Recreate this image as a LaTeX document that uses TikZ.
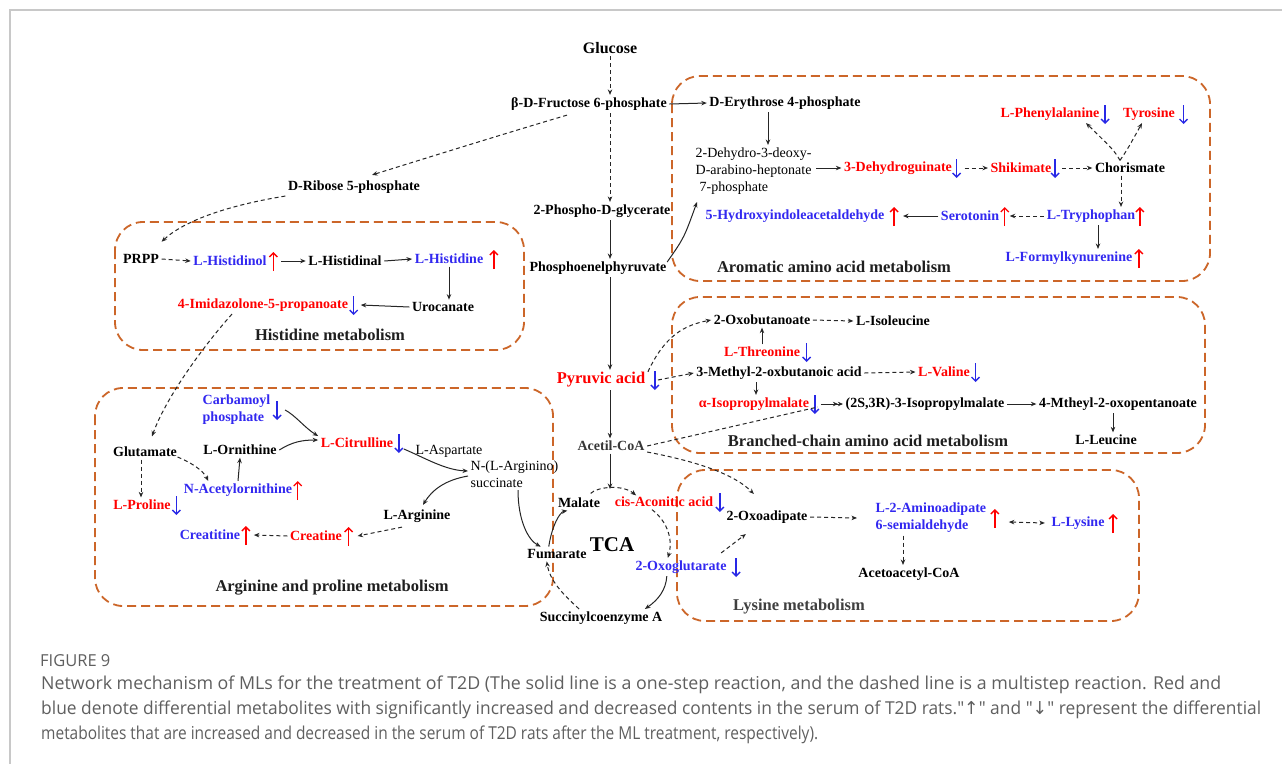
\documentclass[tikz,border=0pt]{standalone}
\usepackage{fontspec}
\usepackage{graphicx}
\setmainfont{Liberation Serif}
\newfontfamily\capfont{Open Sans}
\newfontfamily\symf{DejaVu Sans}
\usetikzlibrary{arrows.meta,calc}
\definecolor{mred}{RGB}{255,0,0}
\definecolor{mblue}{RGB}{50,40,240}
\definecolor{ablue}{RGB}{40,40,230}
\definecolor{boxc}{RGB}{204,102,41}
\definecolor{capc}{RGB}{95,95,95}
\definecolor{framec}{RGB}{200,200,200}
\definecolor{dgray}{RGB}{55,55,55}
\tikzset{
 lbl/.style={font=\fontsize{14}{17}\selectfont\bfseries, inner sep=2.5pt, text=black},
 reg/.style={font=\fontsize{14}{17}\selectfont, inner sep=2.5pt, text=black},
 rl/.style={lbl, text=mred},
 bl/.style={lbl, text=mblue},
 ttl/.style={font=\fontsize{16.5}{19}\selectfont\bfseries, inner sep=2pt, text=black!88},
 pbox/.style={draw=boxc, line width=1.8pt, dash pattern=on 9pt off 5pt, rounded corners=28pt},
 con/.style={draw=black!85, line width=1pt, -{Stealth[length=5.5pt,width=4.5pt]}},
 dcon/.style={con, dash pattern=on 4pt off 3pt},
 upa/.style={draw=mred, line width=1.4pt, -{Straight Barb[length=4pt,width=8pt]}},
 dna/.style={draw=ablue, line width=1.4pt, -{Straight Barb[length=4pt,width=8pt]}},
 capt/.style={font=\capfont\fontsize{17.8}{20}\selectfont, text=capc, anchor=west, inner sep=0pt},
}
\newcommand\UPR[2]{\draw[upa] ($(#1.east)+(#2,10)$) -- ($(#1.east)+(#2,-9)$);}
\newcommand\DNB[2]{\draw[dna] ($(#1.east)+(#2,-9)$) -- ($(#1.east)+(#2,10)$);}
\begin{document}
\begin{tikzpicture}[x=1pt,y=-1pt]
\fill[white] (0,0) rectangle (1282,764);
\useasboundingbox (0,0) rectangle (1282,764);
\draw[framec, line width=2pt] (1282,10) -- (10,10) -- (10,764);

% pathway boxes
\draw[pbox] (672,76) rectangle (1210,281);
\draw[pbox] (115,222) rectangle (524,350);
\draw[pbox] (672,297) rectangle (1205,453);
\draw[pbox] (95,388) rectangle (553,606);
\draw[pbox] (677,470) rectangle (1139,621);

% central column
\node[lbl, font=\fontsize{16}{19}\selectfont\bfseries] (glu) at (610,48) {Glucose};
\node[lbl] (fru) at (589,104) {β-D-Fructose 6-phosphate};
\node[lbl] (pgly) at (602,211) {2-Phospho-D-glycerate};
\node[lbl] (pep) at (598,268) {Phosphoenelphyruvate};
\node[rl, font=\fontsize{16.5}{19}\selectfont\bfseries] (pyr) at (601,380) {Pyruvic acid};
\node[lbl, text=dgray] (acc) at (611,446) {Acetil-CoA};
\node[lbl] (rib) at (354,187) {D-Ribose 5-phosphate};
\node[lbl] (ery) at (785,103) {D-Erythrose 4-phosphate};

% histidine
\node[lbl] (prpp) at (141,259) {PRPP};
\node[bl] (hisol) at (230,261) {L-Histidinol};
\node[lbl] (hisal) at (345,261) {L-Histidinal};
\node[bl] (his) at (449,259) {L-Histidine};
\node[lbl] (uro) at (443,307) {Urocanate};
\node[rl] (imid) at (263,305) {4-Imidazolone-5-propanoate};
\node[ttl] (histitle) at (330,335) {Histidine metabolism};

% aromatic
\node[reg, align=left, anchor=west] (dhd) at (693,171) {2-Dehydro-3-deoxy-\\D-arabino-heptonate\\\hspace{4pt}7-phosphate};
\node[rl] (dhq) at (898,168) {3-Dehydroguinate};
\node[rl] (shk) at (1021,168) {Shikimate};
\node[lbl] (cho) at (1130,168) {Chorismate};
\node[rl] (phe) at (1050,114) {L-Phenylalanine};
\node[rl] (tyr) at (1149,114) {Tyrosine};
\node[bl] (trp) at (1091,216) {L-Tryphophan};
\node[bl] (ser) at (970,216) {Serotonin};
\node[bl] (hia) at (795,216) {5-Hydroxyindoleacetaldehyde};
\node[bl] (fkyn) at (1069,258) {L-Formylkynurenine};
\node[ttl] (arotitle) at (834,267) {Aromatic amino acid metabolism};

% branched chain
\node[lbl] (obu) at (762,320) {2-Oxobutanoate};
\node[lbl] (ile) at (893,321) {L-Isoleucine};
\node[rl] (thr) at (762,352) {L-Threonine};
\node[lbl] (mob) at (779,373) {3-Methyl-2-oxbutanoic acid};
\node[rl] (val) at (944,372) {L-Valine};
\node[rl] (ipm) at (754,404) {α-Isopropylmalate};
\node[lbl] (ipm2) at (925,404) {(2S,3R)-3-Isopropylmalate};
\node[lbl] (mop) at (1118,404) {4-Mtheyl-2-oxopentanoate};
\node[lbl] (leu) at (1106,440) {L-Leucine};
\node[ttl] (bctitle) at (868,441) {Branched-chain amino acid metabolism};

% lysine
\node[lbl] (oad) at (767,517) {2-Oxoadipate};
\node[bl, align=left, anchor=west] (aas) at (873,518) {L-2-Aminoadipate\\6-semialdehyde};
\node[bl] (lys) at (1078,523) {L-Lysine};
\node[lbl] (aca) at (909,574) {Acetoacetyl-CoA};
\node[ttl, text=black!75] (lystitle) at (799,607) {Lysine metabolism};

% TCA
\coordinate (tcatop) at (610,489);
\node[lbl] (mal) at (579,503) {Malate};
\node[rl] (cis) at (664,502) {cis-Aconitic acid};
\node[lbl, font=\fontsize{21}{24}\selectfont\bfseries] (tca) at (612,545) {TCA};
\node[lbl] (fum) at (557,554) {Fumarate};
\node[bl] (ogl) at (681,567) {2-Oxoglutarate};
\node[lbl] (suc) at (601,618) {Succinylcoenzyme A};

% arginine and proline
\node[bl, align=left, anchor=west] (carb) at (200,410) {Carbamoyl\\phosphate};
\node[lbl] (glut) at (145,452) {Glutamate};
\node[lbl] (orn) at (240,450) {L-Ornithine};
\node[rl] (cit) at (357,443) {L-Citrulline};
\node[reg] (asp) at (449,451) {L-Aspartate};
\node[reg, align=left, anchor=west] (nas) at (468,474) {N-(L-Arginino)\\succinate};
\node[bl] (nao) at (238,490) {N-Acetylornithine};
\node[rl] (pro) at (142,505) {L-Proline};
\node[lbl] (arg) at (417,516) {L-Arginine};
\node[rl] (cre) at (316,536) {Creatine};
\node[bl] (crn) at (210,535) {Creatitine};
\node[ttl] (argtitle) at (332,588) {Arginine and proline metabolism};

% up / down markers
\UPR{hisol}{4} \UPR{his}{8} \DNB{imid}{3}
\DNB{dhq}{2} \DNB{shk}{1} \DNB{phe}{3} \DNB{tyr}{6}
\UPR{trp}{2} \UPR{ser}{3} \UPR{hia}{7} \UPR{fkyn}{4}
\DNB{thr}{4} \DNB{val}{3} \DNB{ipm}{3}
\DNB{pyr}{7} \DNB{cis}{4} \DNB{ogl}{7}
\UPR{aas}{6} \UPR{lys}{6}
\DNB{carb}{4} \DNB{cit}{3} \UPR{nao}{3} \DNB{pro}{3} \UPR{cre}{4} \UPR{crn}{3}

% central connectors
\draw[dcon] (glu.south) -- (glu.south |- fru.north);
\draw[dcon] (fru.south -| glu.south) -- (pgly.north -| glu.south);
\draw[con] (pgly.south -| glu.south) -- (pep.north -| glu.south);
\draw[con] (pep.south -| glu.south) -- (pyr.north -| glu.south);
\draw[con] (pyr.south -| glu.south) -- (acc.north -| glu.south);
\draw[con] (acc.south -| glu.south) -- (tcatop);
\draw[con] (fru.east) -- (ery.west);
\draw[dcon] ($(fru.south)+(-22,2)$) .. controls (500,135) and (420,160) .. ($(rib.north)+(18,-3)$);
\draw[dcon] (rib.south west) .. controls (230,205) and (185,220) .. ($(prpp.north east)+(0,-10)$);

% histidine connectors
\draw[dcon] (prpp.east) -- (hisol.west);
\draw[con] ($(hisol.east)+(12,0)$) -- (hisal.west);
\draw[con] (hisal.east) -- (his.west);
\draw[con] (his.south) -- (his.south |- uro.north);
\draw[con] (uro.west) -- ($(imid.east)+(10,0)$);

% aromatic connectors
\coordinate (e1) at ($(ery.south)+(-17,0)$);
\draw[con] (e1) -- (e1 |- dhd.north);
\draw[con] ($(dhd.east)+(2,-3)$) -- (dhq.west);
\draw[dcon] ($(dhq.east)+(10,0)$) -- (shk.west);
\draw[dcon] ($(shk.east)+(8,0)$) -- (cho.west);
\coordinate (c1) at ($(cho.north)+(-10,0)$);
\draw[dcon] (c1) .. controls ($(c1)+(-6,-10)$) .. ($(phe.south)+(36,0)$);
\draw[dcon] (c1) .. controls ($(c1)+(8,-12)$) .. ($(tyr.south)+(-7,0)$);
\coordinate (c2) at ($(cho.south)+(-9,0)$);
\draw[dcon] (c2) -- (c2 |- trp.north);
\draw[dcon] (trp.west) -- ($(ser.east)+(8,0)$);
\draw[con] (ser.west) -- ($(hia.east)+(16,0)$);
\coordinate (c3) at ($(trp.south)+(7,0)$);
\draw[con] (c3) -- (c3 |- fkyn.north);
\draw[con] ($(pep.east)+(-2,-6)$) .. controls (684,238) .. ($(dhd.south west)+(4,5)$);

% branched-chain connectors
\draw[dcon] ($(pyr.north east)+(0,2)$) .. controls (665,335) and (685,325) .. (obu.west);
\draw[dcon] ($(pyr.east)+(10,0)$) -- (mob.west);
\draw[con] (thr.north) -- (obu.south);
\draw[dcon] (obu.east) -- (ile.west);
\draw[dcon] (mob.east) -- (val.west);
\coordinate (b1) at ($(mob.south)+(-23,0)$);
\draw[con] (b1) -- (b1 |- ipm.north);
\draw[con, -{Stealth[length=5pt,width=4.5pt]Stealth[length=5pt,width=4.5pt]}] ($(ipm.east)+(9,0)$) -- (ipm2.west);
\draw[con] (ipm2.east) -- (mop.west);
\coordinate (b2) at ($(mop.south)+(-5,0)$);
\draw[con] (b2) -- (b2 |- leu.north);
\draw[dcon, -] (acc.east) -- ($(ipm.east)+(6,3)$);
\draw[dcon] ($(acc.east)+(0,6)$) .. controls (700,462) and (735,475) .. ($(oad.north west)+(30,-14)$);

% lysine connectors
\draw[dcon] (oad.east) -- ($(aas.west)+(-16,0)$);
\draw[dcon, {Stealth[length=5.5pt,width=4.5pt]}-{Stealth[length=5.5pt,width=4.5pt]}] ($(aas.east)+(20,4)$) -- ($(lys.west)+(-4,0)$);
\coordinate (l1) at ($(aas.south west)+(30,0)$);
\draw[dcon] (l1) -- (l1 |- aca.north);
\draw[dcon] ($(ogl.north east)+(-8,-5)$) -- ($(oad.south west)+(22,8)$);

% TCA connectors
\draw[dcon] ($(mal.north east)+(-12,-2)$) .. controls (597,487) and (622,484) .. ($(cis.north west)+(24,1)$);
\draw[dcon] ($(cis.south)+(-12,0)$) .. controls (668,522) and (673,540) .. ($(ogl.north west)+(35,0)$);
\draw[con] ($(ogl.south west)+(34,0)$) .. controls (666,590) and (658,600) .. ($(suc.north east)+(-20,0)$);
\draw[dcon] ($(suc.north west)+(42,0)$) .. controls (565,596) and (550,582) .. ($(fum.south west)+(22,0)$);
\draw[con] ($(fum.north west)+(24,0)$) .. controls (552,525) and (560,512) .. ($(mal.south west)+(12,0)$);

% arginine connectors
\draw[con] ($(carb.east)+(12,0)$) .. controls (295,415) and (305,428) .. ($(cit.west)+(0,-7)$);
\draw[con] (orn.east) .. controls (292,442) and (302,440) .. ($(cit.west)+(0,-3)$);
\draw[con] ($(cit.east)+(8,6)$) .. controls (425,458) and (445,470) .. ($(nas.west)+(0,-3)$);
\draw[con] ($(nas.west)+(0,2)$) .. controls (445,480) and (432,490) .. ($(arg.north)+(6,-2)$);
\draw[con] ($(nas.south west)+(50,0)$) .. controls (518,520) and (528,540) .. ($(fum.north west)+(16,0)$);
\coordinate (g1) at ($(glut.south)+(-4,0)$);
\draw[dcon] (g1) -- (g1 |- pro.north);
\draw[dcon] ($(glut.east)+(-2,5)$) .. controls (190,462) and (203,470) .. ($(nao.north west)+(27,0)$);
\draw[con] (nao.north) -- (orn.south);
\draw[dcon] ($(imid.south)+(-31,0)$) .. controls (200,350) and (165,400) .. ($(glut.north)+(7,-8)$);
\draw[dcon] ($(arg.south)+(-15,2)$) -- ($(cre.east)+(13,0)$);
\draw[dcon] (cre.west) -- ($(crn.east)+(11,0)$);

% caption
\node[capt, font=\capfont\fontsize{16.5}{20}\selectfont] (fig) at (40,661) {FIGURE 9};
\node[capt] (cap1) at (41,685) {\resizebox{1180pt}{\height}{Network mechanism of MLs for the treatment of T2D (The solid line is a one-step reaction, and the dashed line is a multistep reaction. Red and}};
\node[capt] (cap2) at (41,710) {\resizebox{1220pt}{\height}{blue denote differential metabolites with significantly increased and decreased contents in the serum of T2D rats."{\symf ↑}" and "{\symf ↓}" represent the differential}};
\node[capt] (cap3) at (41,735) {\resizebox{777pt}{\height}{metabolites that are increased and decreased in the serum of T2D rats after the ML treatment, respectively).}};
\end{tikzpicture}
\end{document}
